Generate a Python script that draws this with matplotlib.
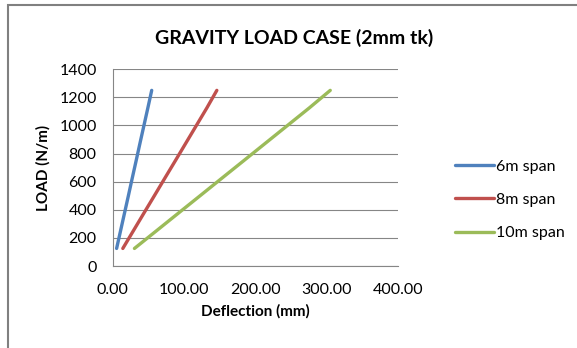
import matplotlib
matplotlib.use("Agg")
import matplotlib.pyplot as plt
from matplotlib.patches import Rectangle

plt.rcParams['font.family'] = ['Lato', 'DejaVu Sans']

loads = [125, 250, 375, 500, 625, 750, 875, 1000, 1125, 1250]
defl_6m = [5.5, 11.0, 16.5, 22.0, 27.4, 32.9, 38.3, 43.8, 49.3, 54.7]
defl_8m = [14.2, 28.9, 43.6, 58.4, 73.1, 87.9, 102.6, 117.3, 132.0, 146.0]
defl_10m = [30.5, 61.2, 91.8, 122.5, 153.1, 183.8, 214.4, 245.0, 275.6, 305.0]
series_names = ['6m span', '8m span', '10m span']
colors = ['#4F81BD', '#C0504D', '#9BBB59']
x_ticks = [0, 100, 200, 300, 400]
y_ticks = [0, 200, 400, 600, 800, 1000, 1200, 1400]

fig = plt.figure(figsize=(5.77, 3.48), dpi=100)
ax = fig.add_axes([0.1953, 0.2356, 0.6898 - 0.1953, 0.8009 - 0.2356])

for d, name, c in zip([defl_6m, defl_8m, defl_10m], series_names, colors):
    ax.plot(d, loads, color=c, lw=2.4, label=name, solid_capstyle='round')

ax.set_xlim(0, 400)
ax.set_ylim(0, 1400)
ax.set_xticks(x_ticks)
ax.set_xticklabels([f"{v:.2f}" for v in x_ticks])
ax.set_yticks(y_ticks)
ax.set_yticklabels([str(v) for v in y_ticks])
ax.tick_params(axis='both', length=0, labelsize=11.5, colors='#000000')
ax.tick_params(axis='y', pad=11.5)
ax.tick_params(axis='x', pad=12.5)
ax.grid(axis='y', color='#868686', lw=0.8)
ax.set_axisbelow(True)
for s in ['top', 'right']:
    ax.spines[s].set_visible(False)
for s in ['left', 'bottom']:
    ax.spines[s].set_color('#868686')
    ax.spines[s].set_linewidth(0.8)

ax.set_xlabel('Deflection (mm)', fontsize=11, fontweight='bold', labelpad=5)
ax.set_ylabel('LOAD (N/m)', fontsize=11, fontweight='bold', labelpad=6)

fig.text(294 / 577, 1 - 38 / 348, 'GRAVITY LOAD CASE (2mm tk)', ha='center', va='center',
         fontsize=14, fontweight='bold')

leg = fig.legend(loc='upper left', bbox_to_anchor=(441 / 577, 1 - 145 / 348), frameon=False,
                 fontsize=11.5, handlelength=2.4, handletextpad=0.15, labelspacing=1.2)

fig.patches.append(Rectangle((8 / 577, -0.1), 1.2, 1 - 5 / 348 + 0.1, transform=fig.transFigure,
                             fill=False, edgecolor='#808080', lw=1.5))

fig.savefig('out.png', dpi=100)
